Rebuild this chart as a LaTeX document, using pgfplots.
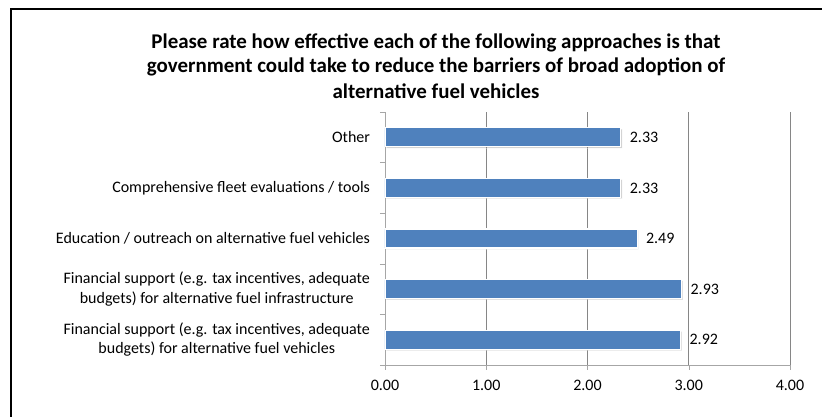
\documentclass[border=0pt]{standalone}
\usepackage{pgfplots}
\pgfplotsset{compat=1.18}
\usetikzlibrary{shadows}
\usepackage{fontspec}
\setmainfont{Carlito}
\definecolor{barblue}{HTML}{4F81BD}
\definecolor{gridgray}{HTML}{868686}
\definecolor{axisgray}{HTML}{A6A6A6}
\begin{document}
\begin{tikzpicture}[x=0.75pt,y=0.75pt]
\draw[black, line width=2.2pt] (11,-5) -- (11,408) -- (830,408);
\begin{scope}[every node/.style={font=\fontsize{15.7}{18}\selectfont\bfseries}]
\node at (436,374) {Please rate how effective each of the following approaches is that};
\node at (436,350) {government could take to reduce the barriers of broad adoption of};
\node at (436,326) {alternative fuel vehicles};
\end{scope}
\begin{axis}[
  at={(288.75pt,39pt)}, anchor=south west,
  scale only axis, width=303.75pt, height=189.75pt,
  xbar, bar width=14.25pt,
  xmin=0, xmax=4, ymin=-0.5, ymax=4.5,
  axis x line*=bottom, axis y line*=left,
  axis line style={axisgray},
  xtick={0,1,2,3,4},
  xmajorgrids, grid style={gridgray, line width=0.6pt},
  ytick={0,1,2,3,4},
  minor ytick={-0.5,0.5,1.5,2.5,3.5,4.5},
  yticklabels={{Financial support (e.g. tax incentives, adequate\\budgets) for alternative fuel vehicles},
               {Financial support (e.g. tax incentives, adequate\\budgets) for alternative fuel infrastructure},
               {Education / outreach on alternative fuel vehicles},
               {Comprehensive fleet evaluations / tools},
               {Other}},
  tick align=outside,
  major tick length=3.75pt, minor tick length=3.75pt,
  tick style={axisgray},
  major y tick style={draw=none},
  yticklabel style={align=center, font=\fontsize{12}{14.5}\selectfont, xshift=-4pt},
  xticklabel style={font=\fontsize{12}{14}\selectfont, yshift=-4pt},
  /pgf/number format/.cd, fixed, fixed zerofill, precision=2, assume math mode=true,
  /pgfplots/.cd,
  nodes near coords,
  nodes near coords style={font=\fontsize{12}{14}\selectfont, anchor=west, xshift=3pt},
]
\addplot[fill=barblue, draw=white, line width=0.8pt,
  drop shadow={shadow xshift=1pt, shadow yshift=-1pt, opacity=0.35, fill=gray}]
  coordinates {(2.92,0) (2.93,1) (2.49,2) (2.33,3) (2.33,4)};
\end{axis}
\pgfresetboundingbox
\path[use as bounding box] (0,0) rectangle (822,417);
\end{tikzpicture}
\end{document}
